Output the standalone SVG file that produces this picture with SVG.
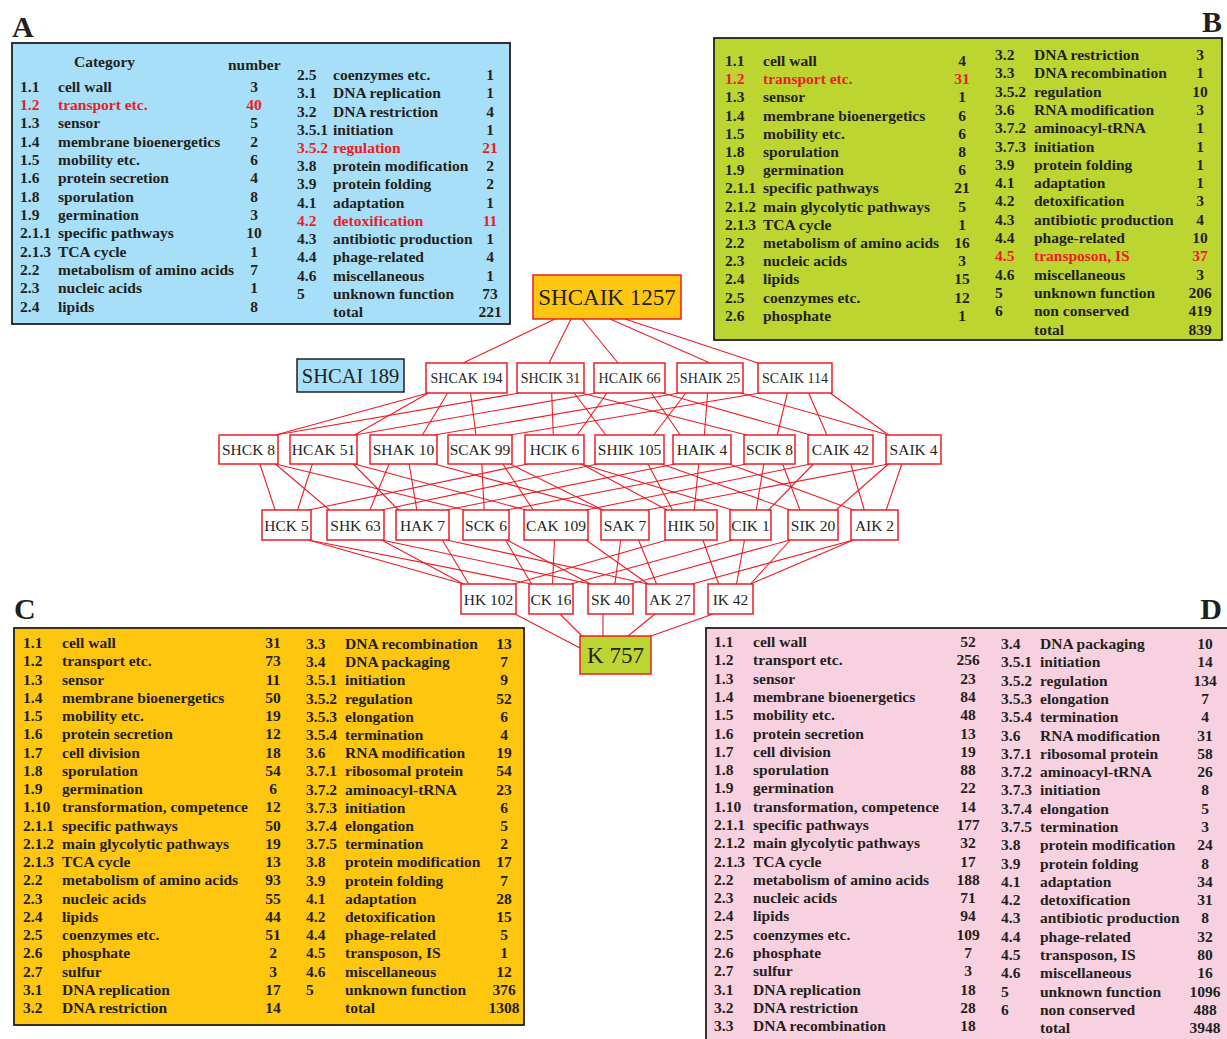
<svg xmlns="http://www.w3.org/2000/svg" width="1227" height="1039" viewBox="0 0 1227 1039">
<style>
.pt{font-family:"Liberation Serif","Times New Roman",serif;font-weight:bold;font-size:15.5px;fill:#231f20}
.red{fill:#ed1c24}
.n{text-anchor:middle}
.lbl{font-family:"Liberation Serif","Times New Roman",serif;font-weight:bold;font-size:30px;fill:#231f20}
.pbox{stroke:#231f20;stroke-width:1.8}
.node rect{fill:#fff;stroke:#ed1c24;stroke-width:1.5}
.node text{font-family:"Liberation Serif","Times New Roman",serif;font-size:15.5px;fill:#231f20;text-anchor:middle}
.node.s text{font-size:14px}
#edges line{stroke:#ed1c24;stroke-width:1.1}
</style>
<rect width="1227" height="1039" fill="#fff"/>

<!-- Panel A -->
<g id="panelA">
<text class="lbl" x="12" y="37">A</text>
<rect class="pbox" x="12" y="43" width="498" height="281" fill="#a7dff8"/>
<text class="pt" x="74" y="67">Category</text>
<text class="pt" x="228" y="70">number</text>
<text class="pt" y="91.5"><tspan x="20">1.1</tspan><tspan x="58">cell wall</tspan><tspan x="254" class="n">3</tspan></text>
<text class="pt red" y="109.8"><tspan x="20">1.2</tspan><tspan x="58">transport etc.</tspan><tspan x="254" class="n">40</tspan></text>
<text class="pt" y="128.2"><tspan x="20">1.3</tspan><tspan x="58">sensor</tspan><tspan x="254" class="n">5</tspan></text>
<text class="pt" y="146.5"><tspan x="20">1.4</tspan><tspan x="58">membrane bioenergetics</tspan><tspan x="254" class="n">2</tspan></text>
<text class="pt" y="164.8"><tspan x="20">1.5</tspan><tspan x="58">mobility etc.</tspan><tspan x="254" class="n">6</tspan></text>
<text class="pt" y="183.2"><tspan x="20">1.6</tspan><tspan x="58">protein secretion</tspan><tspan x="254" class="n">4</tspan></text>
<text class="pt" y="201.5"><tspan x="20">1.8</tspan><tspan x="58">sporulation</tspan><tspan x="254" class="n">8</tspan></text>
<text class="pt" y="219.8"><tspan x="20">1.9</tspan><tspan x="58">germination</tspan><tspan x="254" class="n">3</tspan></text>
<text class="pt" y="238.1"><tspan x="20">2.1.1</tspan><tspan x="58">specific pathways</tspan><tspan x="254" class="n">10</tspan></text>
<text class="pt" y="256.5"><tspan x="20">2.1.3</tspan><tspan x="58">TCA cycle</tspan><tspan x="254" class="n">1</tspan></text>
<text class="pt" y="274.8"><tspan x="20">2.2</tspan><tspan x="58">metabolism of amino acids</tspan><tspan x="254" class="n">7</tspan></text>
<text class="pt" y="293.1"><tspan x="20">2.3</tspan><tspan x="58">nucleic acids</tspan><tspan x="254" class="n">1</tspan></text>
<text class="pt" y="311.5"><tspan x="20">2.4</tspan><tspan x="58">lipids</tspan><tspan x="254" class="n">8</tspan></text>
<text class="pt" y="80"><tspan x="297">2.5</tspan><tspan x="333">coenzymes etc.</tspan><tspan x="490" class="n">1</tspan></text>
<text class="pt" y="98.2"><tspan x="297">3.1</tspan><tspan x="333">DNA replication</tspan><tspan x="490" class="n">1</tspan></text>
<text class="pt" y="116.5"><tspan x="297">3.2</tspan><tspan x="333">DNA restriction</tspan><tspan x="490" class="n">4</tspan></text>
<text class="pt" y="134.7"><tspan x="297">3.5.1</tspan><tspan x="333">initiation</tspan><tspan x="490" class="n">1</tspan></text>
<text class="pt red" y="152.9"><tspan x="297">3.5.2</tspan><tspan x="333">regulation</tspan><tspan x="490" class="n">21</tspan></text>
<text class="pt" y="171.2"><tspan x="297">3.8</tspan><tspan x="333">protein modification</tspan><tspan x="490" class="n">2</tspan></text>
<text class="pt" y="189.4"><tspan x="297">3.9</tspan><tspan x="333">protein folding</tspan><tspan x="490" class="n">2</tspan></text>
<text class="pt" y="207.6"><tspan x="297">4.1</tspan><tspan x="333">adaptation</tspan><tspan x="490" class="n">1</tspan></text>
<text class="pt red" y="225.8"><tspan x="297">4.2</tspan><tspan x="333">detoxification</tspan><tspan x="490" class="n">11</tspan></text>
<text class="pt" y="244.1"><tspan x="297">4.3</tspan><tspan x="333">antibiotic production</tspan><tspan x="490" class="n">1</tspan></text>
<text class="pt" y="262.3"><tspan x="297">4.4</tspan><tspan x="333">phage-related</tspan><tspan x="490" class="n">4</tspan></text>
<text class="pt" y="280.5"><tspan x="297">4.6</tspan><tspan x="333">miscellaneous</tspan><tspan x="490" class="n">1</tspan></text>
<text class="pt" y="298.8"><tspan x="297">5</tspan><tspan x="333">unknown function</tspan><tspan x="490" class="n">73</tspan></text>
<text class="pt" y="317"><tspan x="333">total</tspan><tspan x="490" class="n">221</tspan></text>
</g>

<!-- Panel B -->
<g id="panelB">
<text class="lbl" x="1222" y="32" text-anchor="end">B</text>
<rect class="pbox" x="714" y="38" width="508" height="302" fill="#bdd530"/>
<text class="pt" y="66"><tspan x="725">1.1</tspan><tspan x="763">cell wall</tspan><tspan x="962" class="n">4</tspan></text>
<text class="pt red" y="84.2"><tspan x="725">1.2</tspan><tspan x="763">transport etc.</tspan><tspan x="962" class="n">31</tspan></text>
<text class="pt" y="102.4"><tspan x="725">1.3</tspan><tspan x="763">sensor</tspan><tspan x="962" class="n">1</tspan></text>
<text class="pt" y="120.6"><tspan x="725">1.4</tspan><tspan x="763">membrane bioenergetics</tspan><tspan x="962" class="n">6</tspan></text>
<text class="pt" y="138.8"><tspan x="725">1.5</tspan><tspan x="763">mobility etc.</tspan><tspan x="962" class="n">6</tspan></text>
<text class="pt" y="157"><tspan x="725">1.8</tspan><tspan x="763">sporulation</tspan><tspan x="962" class="n">8</tspan></text>
<text class="pt" y="175.2"><tspan x="725">1.9</tspan><tspan x="763">germination</tspan><tspan x="962" class="n">6</tspan></text>
<text class="pt" y="193.4"><tspan x="725">2.1.1</tspan><tspan x="763">specific pathways</tspan><tspan x="962" class="n">21</tspan></text>
<text class="pt" y="211.6"><tspan x="725">2.1.2</tspan><tspan x="763">main glycolytic pathways</tspan><tspan x="962" class="n">5</tspan></text>
<text class="pt" y="229.8"><tspan x="725">2.1.3</tspan><tspan x="763">TCA cycle</tspan><tspan x="962" class="n">1</tspan></text>
<text class="pt" y="248"><tspan x="725">2.2</tspan><tspan x="763">metabolism of amino acids</tspan><tspan x="962" class="n">16</tspan></text>
<text class="pt" y="266.2"><tspan x="725">2.3</tspan><tspan x="763">nucleic acids</tspan><tspan x="962" class="n">3</tspan></text>
<text class="pt" y="284.4"><tspan x="725">2.4</tspan><tspan x="763">lipids</tspan><tspan x="962" class="n">15</tspan></text>
<text class="pt" y="302.6"><tspan x="725">2.5</tspan><tspan x="763">coenzymes etc.</tspan><tspan x="962" class="n">12</tspan></text>
<text class="pt" y="320.8"><tspan x="725">2.6</tspan><tspan x="763">phosphate</tspan><tspan x="962" class="n">1</tspan></text>
<text class="pt" y="60"><tspan x="995">3.2</tspan><tspan x="1034">DNA restriction</tspan><tspan x="1200" class="n">3</tspan></text>
<text class="pt" y="78.3"><tspan x="995">3.3</tspan><tspan x="1034">DNA recombination</tspan><tspan x="1200" class="n">1</tspan></text>
<text class="pt" y="96.6"><tspan x="995">3.5.2</tspan><tspan x="1034">regulation</tspan><tspan x="1200" class="n">10</tspan></text>
<text class="pt" y="114.9"><tspan x="995">3.6</tspan><tspan x="1034">RNA modification</tspan><tspan x="1200" class="n">3</tspan></text>
<text class="pt" y="133.2"><tspan x="995">3.7.2</tspan><tspan x="1034">aminoacyl-tRNA</tspan><tspan x="1200" class="n">1</tspan></text>
<text class="pt" y="151.5"><tspan x="995">3.7.3</tspan><tspan x="1034">initiation</tspan><tspan x="1200" class="n">1</tspan></text>
<text class="pt" y="169.8"><tspan x="995">3.9</tspan><tspan x="1034">protein folding</tspan><tspan x="1200" class="n">1</tspan></text>
<text class="pt" y="188.1"><tspan x="995">4.1</tspan><tspan x="1034">adaptation</tspan><tspan x="1200" class="n">1</tspan></text>
<text class="pt" y="206.4"><tspan x="995">4.2</tspan><tspan x="1034">detoxification</tspan><tspan x="1200" class="n">3</tspan></text>
<text class="pt" y="224.7"><tspan x="995">4.3</tspan><tspan x="1034">antibiotic production</tspan><tspan x="1200" class="n">4</tspan></text>
<text class="pt" y="243"><tspan x="995">4.4</tspan><tspan x="1034">phage-related</tspan><tspan x="1200" class="n">10</tspan></text>
<text class="pt red" y="261.3"><tspan x="995">4.5</tspan><tspan x="1034">transposon, IS</tspan><tspan x="1200" class="n">37</tspan></text>
<text class="pt" y="279.6"><tspan x="995">4.6</tspan><tspan x="1034">miscellaneous</tspan><tspan x="1200" class="n">3</tspan></text>
<text class="pt" y="297.9"><tspan x="995">5</tspan><tspan x="1034">unknown function</tspan><tspan x="1200" class="n">206</tspan></text>
<text class="pt" y="316.2"><tspan x="995">6</tspan><tspan x="1034">non conserved</tspan><tspan x="1200" class="n">419</tspan></text>
<text class="pt" y="334.5"><tspan x="1034">total</tspan><tspan x="1200" class="n">839</tspan></text>
</g>

<!-- Panel C -->
<g id="panelC">
<text class="lbl" x="14" y="619">C</text>
<rect class="pbox" x="14" y="628" width="510" height="397" fill="#fec60f"/>
<text class="pt" y="648"><tspan x="23">1.1</tspan><tspan x="62">cell wall</tspan><tspan x="273" class="n">31</tspan></text>
<text class="pt" y="666.3"><tspan x="23">1.2</tspan><tspan x="62">transport etc.</tspan><tspan x="273" class="n">73</tspan></text>
<text class="pt" y="684.5"><tspan x="23">1.3</tspan><tspan x="62">sensor</tspan><tspan x="273" class="n">11</tspan></text>
<text class="pt" y="702.8"><tspan x="23">1.4</tspan><tspan x="62">membrane bioenergetics</tspan><tspan x="273" class="n">50</tspan></text>
<text class="pt" y="721"><tspan x="23">1.5</tspan><tspan x="62">mobility etc.</tspan><tspan x="273" class="n">19</tspan></text>
<text class="pt" y="739.3"><tspan x="23">1.6</tspan><tspan x="62">protein secretion</tspan><tspan x="273" class="n">12</tspan></text>
<text class="pt" y="757.5"><tspan x="23">1.7</tspan><tspan x="62">cell division</tspan><tspan x="273" class="n">18</tspan></text>
<text class="pt" y="775.8"><tspan x="23">1.8</tspan><tspan x="62">sporulation</tspan><tspan x="273" class="n">54</tspan></text>
<text class="pt" y="794"><tspan x="23">1.9</tspan><tspan x="62">germination</tspan><tspan x="273" class="n">6</tspan></text>
<text class="pt" y="812.3"><tspan x="23">1.10</tspan><tspan x="62">transformation, competence</tspan><tspan x="273" class="n">12</tspan></text>
<text class="pt" y="830.5"><tspan x="23">2.1.1</tspan><tspan x="62">specific pathways</tspan><tspan x="273" class="n">50</tspan></text>
<text class="pt" y="848.8"><tspan x="23">2.1.2</tspan><tspan x="62">main glycolytic pathways</tspan><tspan x="273" class="n">19</tspan></text>
<text class="pt" y="867"><tspan x="23">2.1.3</tspan><tspan x="62">TCA cycle</tspan><tspan x="273" class="n">13</tspan></text>
<text class="pt" y="885.3"><tspan x="23">2.2</tspan><tspan x="62">metabolism of amino acids</tspan><tspan x="273" class="n">93</tspan></text>
<text class="pt" y="903.5"><tspan x="23">2.3</tspan><tspan x="62">nucleic acids</tspan><tspan x="273" class="n">55</tspan></text>
<text class="pt" y="921.8"><tspan x="23">2.4</tspan><tspan x="62">lipids</tspan><tspan x="273" class="n">44</tspan></text>
<text class="pt" y="940"><tspan x="23">2.5</tspan><tspan x="62">coenzymes etc.</tspan><tspan x="273" class="n">51</tspan></text>
<text class="pt" y="958.3"><tspan x="23">2.6</tspan><tspan x="62">phosphate</tspan><tspan x="273" class="n">2</tspan></text>
<text class="pt" y="976.5"><tspan x="23">2.7</tspan><tspan x="62">sulfur</tspan><tspan x="273" class="n">3</tspan></text>
<text class="pt" y="994.8"><tspan x="23">3.1</tspan><tspan x="62">DNA replication</tspan><tspan x="273" class="n">17</tspan></text>
<text class="pt" y="1013"><tspan x="23">3.2</tspan><tspan x="62">DNA restriction</tspan><tspan x="273" class="n">14</tspan></text>
<text class="pt" y="649"><tspan x="306">3.3</tspan><tspan x="345">DNA recombination</tspan><tspan x="504" class="n">13</tspan></text>
<text class="pt" y="667.2"><tspan x="306">3.4</tspan><tspan x="345">DNA packaging</tspan><tspan x="504" class="n">7</tspan></text>
<text class="pt" y="685.4"><tspan x="306">3.5.1</tspan><tspan x="345">initiation</tspan><tspan x="504" class="n">9</tspan></text>
<text class="pt" y="703.6"><tspan x="306">3.5.2</tspan><tspan x="345">regulation</tspan><tspan x="504" class="n">52</tspan></text>
<text class="pt" y="721.8"><tspan x="306">3.5.3</tspan><tspan x="345">elongation</tspan><tspan x="504" class="n">6</tspan></text>
<text class="pt" y="740"><tspan x="306">3.5.4</tspan><tspan x="345">termination</tspan><tspan x="504" class="n">4</tspan></text>
<text class="pt" y="758.2"><tspan x="306">3.6</tspan><tspan x="345">RNA modification</tspan><tspan x="504" class="n">19</tspan></text>
<text class="pt" y="776.4"><tspan x="306">3.7.1</tspan><tspan x="345">ribosomal protein</tspan><tspan x="504" class="n">54</tspan></text>
<text class="pt" y="794.6"><tspan x="306">3.7.2</tspan><tspan x="345">aminoacyl-tRNA</tspan><tspan x="504" class="n">23</tspan></text>
<text class="pt" y="812.8"><tspan x="306">3.7.3</tspan><tspan x="345">initiation</tspan><tspan x="504" class="n">6</tspan></text>
<text class="pt" y="831"><tspan x="306">3.7.4</tspan><tspan x="345">elongation</tspan><tspan x="504" class="n">5</tspan></text>
<text class="pt" y="849.2"><tspan x="306">3.7.5</tspan><tspan x="345">termination</tspan><tspan x="504" class="n">2</tspan></text>
<text class="pt" y="867.4"><tspan x="306">3.8</tspan><tspan x="345">protein modification</tspan><tspan x="504" class="n">17</tspan></text>
<text class="pt" y="885.6"><tspan x="306">3.9</tspan><tspan x="345">protein folding</tspan><tspan x="504" class="n">7</tspan></text>
<text class="pt" y="903.8"><tspan x="306">4.1</tspan><tspan x="345">adaptation</tspan><tspan x="504" class="n">28</tspan></text>
<text class="pt" y="922"><tspan x="306">4.2</tspan><tspan x="345">detoxification</tspan><tspan x="504" class="n">15</tspan></text>
<text class="pt" y="940.2"><tspan x="306">4.4</tspan><tspan x="345">phage-related</tspan><tspan x="504" class="n">5</tspan></text>
<text class="pt" y="958.4"><tspan x="306">4.5</tspan><tspan x="345">transposon, IS</tspan><tspan x="504" class="n">1</tspan></text>
<text class="pt" y="976.6"><tspan x="306">4.6</tspan><tspan x="345">miscellaneous</tspan><tspan x="504" class="n">12</tspan></text>
<text class="pt" y="994.8"><tspan x="306">5</tspan><tspan x="345">unknown function</tspan><tspan x="504" class="n">376</tspan></text>
<text class="pt" y="1013"><tspan x="345">total</tspan><tspan x="504" class="n">1308</tspan></text>
</g>

<!-- Panel D -->
<g id="panelD">
<text class="lbl" x="1222" y="619" text-anchor="end">D</text>
<rect class="pbox" x="706" y="628" width="530" height="420" fill="#f8d1e1"/>
<text class="pt" y="647"><tspan x="714">1.1</tspan><tspan x="753">cell wall</tspan><tspan x="968" class="n">52</tspan></text>
<text class="pt" y="665.3"><tspan x="714">1.2</tspan><tspan x="753">transport etc.</tspan><tspan x="968" class="n">256</tspan></text>
<text class="pt" y="683.6"><tspan x="714">1.3</tspan><tspan x="753">sensor</tspan><tspan x="968" class="n">23</tspan></text>
<text class="pt" y="701.9"><tspan x="714">1.4</tspan><tspan x="753">membrane bioenergetics</tspan><tspan x="968" class="n">84</tspan></text>
<text class="pt" y="720.2"><tspan x="714">1.5</tspan><tspan x="753">mobility etc.</tspan><tspan x="968" class="n">48</tspan></text>
<text class="pt" y="738.5"><tspan x="714">1.6</tspan><tspan x="753">protein secretion</tspan><tspan x="968" class="n">13</tspan></text>
<text class="pt" y="756.7"><tspan x="714">1.7</tspan><tspan x="753">cell division</tspan><tspan x="968" class="n">19</tspan></text>
<text class="pt" y="775"><tspan x="714">1.8</tspan><tspan x="753">sporulation</tspan><tspan x="968" class="n">88</tspan></text>
<text class="pt" y="793.3"><tspan x="714">1.9</tspan><tspan x="753">germination</tspan><tspan x="968" class="n">22</tspan></text>
<text class="pt" y="811.6"><tspan x="714">1.10</tspan><tspan x="753">transformation, competence</tspan><tspan x="968" class="n">14</tspan></text>
<text class="pt" y="829.9"><tspan x="714">2.1.1</tspan><tspan x="753">specific pathways</tspan><tspan x="968" class="n">177</tspan></text>
<text class="pt" y="848.2"><tspan x="714">2.1.2</tspan><tspan x="753">main glycolytic pathways</tspan><tspan x="968" class="n">32</tspan></text>
<text class="pt" y="866.5"><tspan x="714">2.1.3</tspan><tspan x="753">TCA cycle</tspan><tspan x="968" class="n">17</tspan></text>
<text class="pt" y="884.8"><tspan x="714">2.2</tspan><tspan x="753">metabolism of amino acids</tspan><tspan x="968" class="n">188</tspan></text>
<text class="pt" y="903.1"><tspan x="714">2.3</tspan><tspan x="753">nucleic acids</tspan><tspan x="968" class="n">71</tspan></text>
<text class="pt" y="921.4"><tspan x="714">2.4</tspan><tspan x="753">lipids</tspan><tspan x="968" class="n">94</tspan></text>
<text class="pt" y="939.6"><tspan x="714">2.5</tspan><tspan x="753">coenzymes etc.</tspan><tspan x="968" class="n">109</tspan></text>
<text class="pt" y="957.9"><tspan x="714">2.6</tspan><tspan x="753">phosphate</tspan><tspan x="968" class="n">7</tspan></text>
<text class="pt" y="976.2"><tspan x="714">2.7</tspan><tspan x="753">sulfur</tspan><tspan x="968" class="n">3</tspan></text>
<text class="pt" y="994.5"><tspan x="714">3.1</tspan><tspan x="753">DNA replication</tspan><tspan x="968" class="n">18</tspan></text>
<text class="pt" y="1012.8"><tspan x="714">3.2</tspan><tspan x="753">DNA restriction</tspan><tspan x="968" class="n">28</tspan></text>
<text class="pt" y="1031.1"><tspan x="714">3.3</tspan><tspan x="753">DNA recombination</tspan><tspan x="968" class="n">18</tspan></text>
<text class="pt" y="649"><tspan x="1001">3.4</tspan><tspan x="1040">DNA packaging</tspan><tspan x="1205" class="n">10</tspan></text>
<text class="pt" y="667.3"><tspan x="1001">3.5.1</tspan><tspan x="1040">initiation</tspan><tspan x="1205" class="n">14</tspan></text>
<text class="pt" y="685.6"><tspan x="1001">3.5.2</tspan><tspan x="1040">regulation</tspan><tspan x="1205" class="n">134</tspan></text>
<text class="pt" y="703.9"><tspan x="1001">3.5.3</tspan><tspan x="1040">elongation</tspan><tspan x="1205" class="n">7</tspan></text>
<text class="pt" y="722.2"><tspan x="1001">3.5.4</tspan><tspan x="1040">termination</tspan><tspan x="1205" class="n">4</tspan></text>
<text class="pt" y="740.5"><tspan x="1001">3.6</tspan><tspan x="1040">RNA modification</tspan><tspan x="1205" class="n">31</tspan></text>
<text class="pt" y="758.7"><tspan x="1001">3.7.1</tspan><tspan x="1040">ribosomal protein</tspan><tspan x="1205" class="n">58</tspan></text>
<text class="pt" y="777"><tspan x="1001">3.7.2</tspan><tspan x="1040">aminoacyl-tRNA</tspan><tspan x="1205" class="n">26</tspan></text>
<text class="pt" y="795.3"><tspan x="1001">3.7.3</tspan><tspan x="1040">initiation</tspan><tspan x="1205" class="n">8</tspan></text>
<text class="pt" y="813.6"><tspan x="1001">3.7.4</tspan><tspan x="1040">elongation</tspan><tspan x="1205" class="n">5</tspan></text>
<text class="pt" y="831.9"><tspan x="1001">3.7.5</tspan><tspan x="1040">termination</tspan><tspan x="1205" class="n">3</tspan></text>
<text class="pt" y="850.2"><tspan x="1001">3.8</tspan><tspan x="1040">protein modification</tspan><tspan x="1205" class="n">24</tspan></text>
<text class="pt" y="868.5"><tspan x="1001">3.9</tspan><tspan x="1040">protein folding</tspan><tspan x="1205" class="n">8</tspan></text>
<text class="pt" y="886.8"><tspan x="1001">4.1</tspan><tspan x="1040">adaptation</tspan><tspan x="1205" class="n">34</tspan></text>
<text class="pt" y="905.1"><tspan x="1001">4.2</tspan><tspan x="1040">detoxification</tspan><tspan x="1205" class="n">31</tspan></text>
<text class="pt" y="923.4"><tspan x="1001">4.3</tspan><tspan x="1040">antibiotic production</tspan><tspan x="1205" class="n">8</tspan></text>
<text class="pt" y="941.6"><tspan x="1001">4.4</tspan><tspan x="1040">phage-related</tspan><tspan x="1205" class="n">32</tspan></text>
<text class="pt" y="959.9"><tspan x="1001">4.5</tspan><tspan x="1040">transposon, IS</tspan><tspan x="1205" class="n">80</tspan></text>
<text class="pt" y="978.2"><tspan x="1001">4.6</tspan><tspan x="1040">miscellaneous</tspan><tspan x="1205" class="n">16</tspan></text>
<text class="pt" y="996.5"><tspan x="1001">5</tspan><tspan x="1040">unknown function</tspan><tspan x="1205" class="n">1096</tspan></text>
<text class="pt" y="1014.8"><tspan x="1001">6</tspan><tspan x="1040">non conserved</tspan><tspan x="1205" class="n">488</tspan></text>
<text class="pt" y="1033.1"><tspan x="1040">total</tspan><tspan x="1205" class="n">3948</tspan></text>
</g>

<!-- Connectors -->
<g id="edges">
<line x1="555" y1="319" x2="463" y2="363"/>
<line x1="571" y1="319" x2="549" y2="363"/>
<line x1="582" y1="319" x2="618" y2="363"/>
<line x1="610" y1="319" x2="710" y2="363"/>
<line x1="625" y1="319" x2="758" y2="363"/>

<line x1="428.5" y1="393" x2="275.5" y2="435"/>
<line x1="428.5" y1="393" x2="354.5" y2="435"/>
<line x1="447.6" y1="393" x2="422.4" y2="435"/>
<line x1="470.5" y1="393" x2="476" y2="435"/>
<line x1="519.5" y1="393" x2="275.5" y2="435"/>
<line x1="551.7" y1="393" x2="553.3" y2="435"/>
<line x1="574.2" y1="393" x2="605.8" y2="435"/>
<line x1="581.5" y1="393" x2="746.5" y2="435"/>
<line x1="596.5" y1="393" x2="354.5" y2="435"/>
<line x1="607" y1="393" x2="577" y2="435"/>
<line x1="651.3" y1="393" x2="680.3" y2="435"/>
<line x1="662.5" y1="393" x2="810.5" y2="435"/>
<line x1="679" y1="393" x2="434.5" y2="435"/>
<line x1="685.9" y1="393" x2="653.7" y2="435"/>
<line x1="707.6" y1="393" x2="704.4" y2="435"/>
<line x1="741" y1="393" x2="888.5" y2="435"/>
<line x1="760" y1="393" x2="510" y2="435"/>
<line x1="787.4" y1="393" x2="777.2" y2="435"/>
<line x1="808.7" y1="393" x2="826.9" y2="435"/>
<line x1="830" y1="393" x2="888.5" y2="435"/>

<line x1="259.9" y1="464" x2="275.1" y2="510"/>
<line x1="275.5" y1="464" x2="329.5" y2="510"/>
<line x1="275.5" y1="464" x2="465" y2="510"/>
<line x1="312.4" y1="464" x2="297.6" y2="510"/>
<line x1="353.2" y1="464" x2="398.5" y2="510"/>
<line x1="354.5" y1="464" x2="526" y2="510"/>
<line x1="389.1" y1="464" x2="369.9" y2="510"/>
<line x1="409.2" y1="464" x2="416.8" y2="510"/>
<line x1="434.5" y1="464" x2="603" y2="510"/>
<line x1="481.8" y1="464" x2="484.2" y2="510"/>
<line x1="502.8" y1="464" x2="533.2" y2="510"/>
<line x1="510" y1="464" x2="603" y2="510"/>
<line x1="527.5" y1="464" x2="308.5" y2="510"/>
<line x1="581.5" y1="464" x2="667" y2="510"/>
<line x1="581.5" y1="464" x2="732.5" y2="510"/>
<line x1="597.5" y1="464" x2="381.5" y2="510"/>
<line x1="648" y1="464" x2="672.5" y2="510"/>
<line x1="661.5" y1="464" x2="790" y2="510"/>
<line x1="675" y1="464" x2="446.5" y2="510"/>
<line x1="698.7" y1="464" x2="694.3" y2="510"/>
<line x1="729" y1="464" x2="853.5" y2="510"/>
<line x1="746.5" y1="464" x2="507" y2="510"/>
<line x1="763.8" y1="464" x2="756.2" y2="510"/>
<line x1="782.6" y1="464" x2="800" y2="510"/>
<line x1="810.5" y1="464" x2="586" y2="510"/>
<line x1="813.5" y1="464" x2="768.5" y2="510"/>
<line x1="850.7" y1="464" x2="864.3" y2="510"/>
<line x1="888.5" y1="464" x2="647" y2="510"/>
<line x1="888.5" y1="464" x2="836" y2="510"/>
<line x1="901.8" y1="464" x2="886.2" y2="510"/>

<line x1="308.5" y1="540" x2="463.5" y2="584"/>
<line x1="308.5" y1="540" x2="531" y2="584"/>
<line x1="381.5" y1="540" x2="590.5" y2="584"/>
<line x1="381.5" y1="540" x2="463.5" y2="584"/>
<line x1="442.3" y1="540" x2="468.7" y2="584"/>
<line x1="446.5" y1="540" x2="648" y2="584"/>
<line x1="507" y1="540" x2="590.5" y2="584"/>
<line x1="505.5" y1="540" x2="531.5" y2="584"/>
<line x1="554.5" y1="540" x2="552.5" y2="584"/>
<line x1="586" y1="540" x2="648" y2="584"/>
<line x1="620.7" y1="540" x2="614.9" y2="584"/>
<line x1="638.5" y1="540" x2="656.5" y2="584"/>
<line x1="667" y1="540" x2="513.5" y2="584"/>
<line x1="702.9" y1="540" x2="718.7" y2="584"/>
<line x1="732.5" y1="540" x2="571" y2="584"/>
<line x1="744.5" y1="540" x2="736.5" y2="584"/>
<line x1="790" y1="540" x2="630.5" y2="584"/>
<line x1="790.3" y1="540" x2="750.5" y2="584"/>
<line x1="853.5" y1="540" x2="692" y2="584"/>
<line x1="853.5" y1="540" x2="750.5" y2="584"/>

<line x1="515" y1="614" x2="580" y2="648"/>
<line x1="560" y1="614" x2="582" y2="636"/>
<line x1="603" y1="614" x2="603" y2="636"/>
<line x1="655" y1="614" x2="628" y2="636"/>
<line x1="713" y1="614" x2="651" y2="636"/>
</g>

<!-- Nodes -->
<g id="n-SHCAIK" class="node"><rect x="533" y="275" width="148" height="44" style="fill:#fec60f"/><text x="607" y="305" style="font-size:23px">SHCAIK 1257</text></g>
<g id="n-SHCAI" class="node"><rect x="297" y="359" width="107" height="33" style="fill:#a7dff8;stroke:#231f20"/><text x="350.5" y="382.5" style="font-size:20.5px">SHCAI 189</text></g>

<g id="n-SHCAK" class="node s"><rect x="426" y="363" width="81" height="30"/><text x="466.5" y="383">SHCAK 194</text></g>
<g id="n-SHCIK" class="node s"><rect x="517" y="363" width="67" height="30"/><text x="550.5" y="383">SHCIK 31</text></g>
<g id="n-HCAIK" class="node s"><rect x="594" y="363" width="71" height="30"/><text x="629.5" y="383">HCAIK 66</text></g>
<g id="n-SHAIK" class="node s"><rect x="677" y="363" width="66" height="30"/><text x="710" y="383">SHAIK 25</text></g>
<g id="n-SCAIK" class="node s"><rect x="758" y="363" width="74" height="30"/><text x="795" y="383">SCAIK 114</text></g>

<g id="n-SHCK" class="node"><rect x="219" y="435" width="59" height="29"/><text x="248.5" y="455">SHCK 8</text></g>
<g id="n-HCAK" class="node"><rect x="290" y="435" width="67" height="29"/><text x="323.5" y="455">HCAK 51</text></g>
<g id="n-SHAK" class="node"><rect x="370" y="435" width="67" height="29"/><text x="403.5" y="455">SHAK 10</text></g>
<g id="n-SCAK" class="node"><rect x="448" y="435" width="64" height="29"/><text x="480" y="455">SCAK 99</text></g>
<g id="n-HCIK" class="node"><rect x="525" y="435" width="59" height="29"/><text x="554.5" y="455">HCIK 6</text></g>
<g id="n-SHIK" class="node"><rect x="595" y="435" width="69" height="29"/><text x="629.5" y="455">SHIK 105</text></g>
<g id="n-HAIK" class="node"><rect x="673" y="435" width="58" height="29"/><text x="702" y="455">HAIK 4</text></g>
<g id="n-SCIK" class="node"><rect x="744" y="435" width="51" height="29"/><text x="769.5" y="455">SCIK 8</text></g>
<g id="n-CAIK" class="node"><rect x="808" y="435" width="65" height="29"/><text x="840.5" y="455">CAIK 42</text></g>
<g id="n-SAIK" class="node"><rect x="886" y="435" width="55" height="29"/><text x="913.5" y="455">SAIK 4</text></g>

<g id="n-HCK" class="node"><rect x="262" y="510" width="49" height="30"/><text x="286.5" y="530.5">HCK 5</text></g>
<g id="n-SHK" class="node"><rect x="327" y="510" width="57" height="30"/><text x="355.5" y="530.5">SHK 63</text></g>
<g id="n-HAK" class="node"><rect x="396" y="510" width="53" height="30"/><text x="422.5" y="530.5">HAK 7</text></g>
<g id="n-SCK" class="node"><rect x="463" y="510" width="46" height="30"/><text x="486" y="530.5">SCK 6</text></g>
<g id="n-CAK" class="node"><rect x="524" y="510" width="64" height="30"/><text x="556" y="530.5">CAK 109</text></g>
<g id="n-SAK" class="node"><rect x="601" y="510" width="48" height="30"/><text x="625" y="530.5">SAK 7</text></g>
<g id="n-HIK" class="node"><rect x="665" y="510" width="52" height="30"/><text x="691" y="530.5">HIK 50</text></g>
<g id="n-CIK" class="node"><rect x="730" y="510" width="41" height="30"/><text x="750.5" y="530.5">CIK 1</text></g>
<g id="n-SIK" class="node"><rect x="788" y="510" width="50" height="30"/><text x="813" y="530.5">SIK 20</text></g>
<g id="n-AIK" class="node"><rect x="851" y="510" width="47" height="30"/><text x="874.5" y="530.5">AIK 2</text></g>

<g id="n-HK" class="node"><rect x="461" y="584" width="55" height="30"/><text x="488.5" y="604.5">HK 102</text></g>
<g id="n-CK" class="node"><rect x="529" y="584" width="44" height="30"/><text x="551" y="604.5">CK 16</text></g>
<g id="n-SK" class="node"><rect x="588" y="584" width="45" height="30"/><text x="610.5" y="604.5">SK 40</text></g>
<g id="n-AK" class="node"><rect x="646" y="584" width="48" height="30"/><text x="670" y="604.5">AK 27</text></g>
<g id="n-IK" class="node"><rect x="708" y="584" width="45" height="30"/><text x="730.5" y="604.5">IK 42</text></g>

<g id="n-K" class="node"><rect x="580" y="636" width="71" height="38" style="fill:#bdd530"/><text x="615.5" y="663" style="font-size:23px">K 757</text></g>
</svg>
